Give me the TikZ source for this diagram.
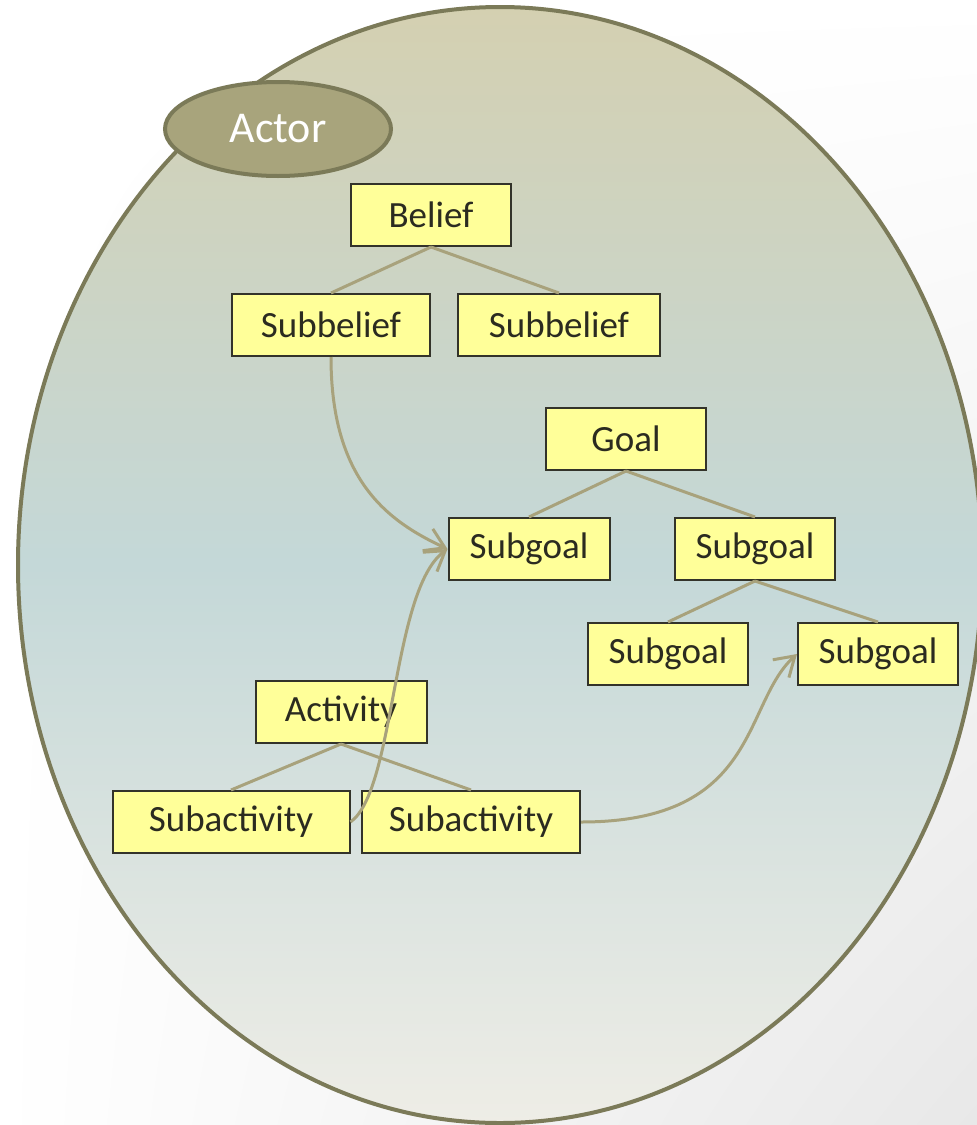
\documentclass[tikz,border=0pt]{standalone}
\usepackage{fontspec}
\setmainfont{Carlito}
\usepackage{xcolor}
\usepackage{tikz}
\usetikzlibrary{shapes.geometric, arrows.meta, shadings}
\definecolor{rim}{HTML}{7B7A58}
\definecolor{actorfill}{HTML}{A8A47C}
\definecolor{linkcol}{HTML}{A8A27C}
\definecolor{boxfill}{HTML}{FFFF99}
\definecolor{boxrim}{HTML}{33332A}
\definecolor{ink}{HTML}{2B2B20}
\definecolor{toptan}{HTML}{D4D0B1}
\definecolor{midteal}{HTML}{C4D8D8}
\definecolor{lowgrey}{HTML}{EEEDE6}

\tikzset{
  box/.style={draw=boxrim, line width=2pt, fill=boxfill, text=ink, inner sep=0pt,
    minimum height=62pt, minimum width=#1, font=\fontsize{37}{40}\selectfont},
  box/.default=160pt,
  branch/.style={draw=linkcol, line width=3pt},
  link/.style={draw=linkcol, line width=3pt, -{Straight Barb[length=19pt,width=24pt]}}
}

\begin{document}
\begin{tikzpicture}[x=1pt, y=-1pt]
    \useasboundingbox (0,0) rectangle (977,1125);
    \clip (0,0) rectangle (977,1125);
    \shade[upper left=white, upper right=white, lower left=white, lower right=black!9] (0,0) rectangle (977,1125);
    \path[draw=rim, line width=4pt, top color=toptan, bottom color=lowgrey, middle color=midteal]
        (500,565) ellipse [x radius=482pt, y radius=558pt];
    \node[ellipse, draw=rim, line width=4pt, fill=actorfill, text=white, inner sep=0pt,
        minimum width=226pt, minimum height=94pt, font=\fontsize{44}{48}\selectfont] (actor) at (278,129) {Actor};

    \node[box] (bel) at (431,215) {Belief};
    \node[box=198pt] (sb1) at (331,325) {Subbelief};
    \node[box=202pt] (sb2) at (559,325) {Subbelief};

    \node[box] (goal) at (626,439) {Goal};
    \node[box=161pt] (sg1) at (529,549) {Subgoal};
    \node[box] (sg2) at (755,549) {Subgoal};
    \node[box] (sg3) at (668,654) {Subgoal};
    \node[box] (sg4) at (878,654) {Subgoal};

    \node[box=171pt] (act) at (341,712) {Activity};
    \node[box=237pt] (sa1) at (231,822) {Subactivity};
    \node[box=218pt] (sa2) at (471,822) {Subactivity};

    \draw[branch] (bel.south) -- (sb1.north);
    \draw[branch] (bel.south) -- (sb2.north);
    \draw[branch] (goal.south) -- (sg1.north);
    \draw[branch] (goal.south) -- (sg2.north);
    \draw[branch] (sg2.south) -- (sg3.north);
    \draw[branch] (sg2.south) -- (sg4.north);
    \draw[branch] (act.south) -- (sa1.north);
    \draw[branch] (act.south) -- (sa2.north);

    \draw[link] (sb1.south) .. controls +(0,123) and +(-60,-28) .. (sg1.west);
    \draw[link] (sa1.east) .. controls +(45,-32) and +(-56,41) .. (sg1.west);
    \draw[link] (sa2.east) .. controls +(179,0) and +(-55,50) .. (sg4.west);
\end{tikzpicture}
\end{document}
